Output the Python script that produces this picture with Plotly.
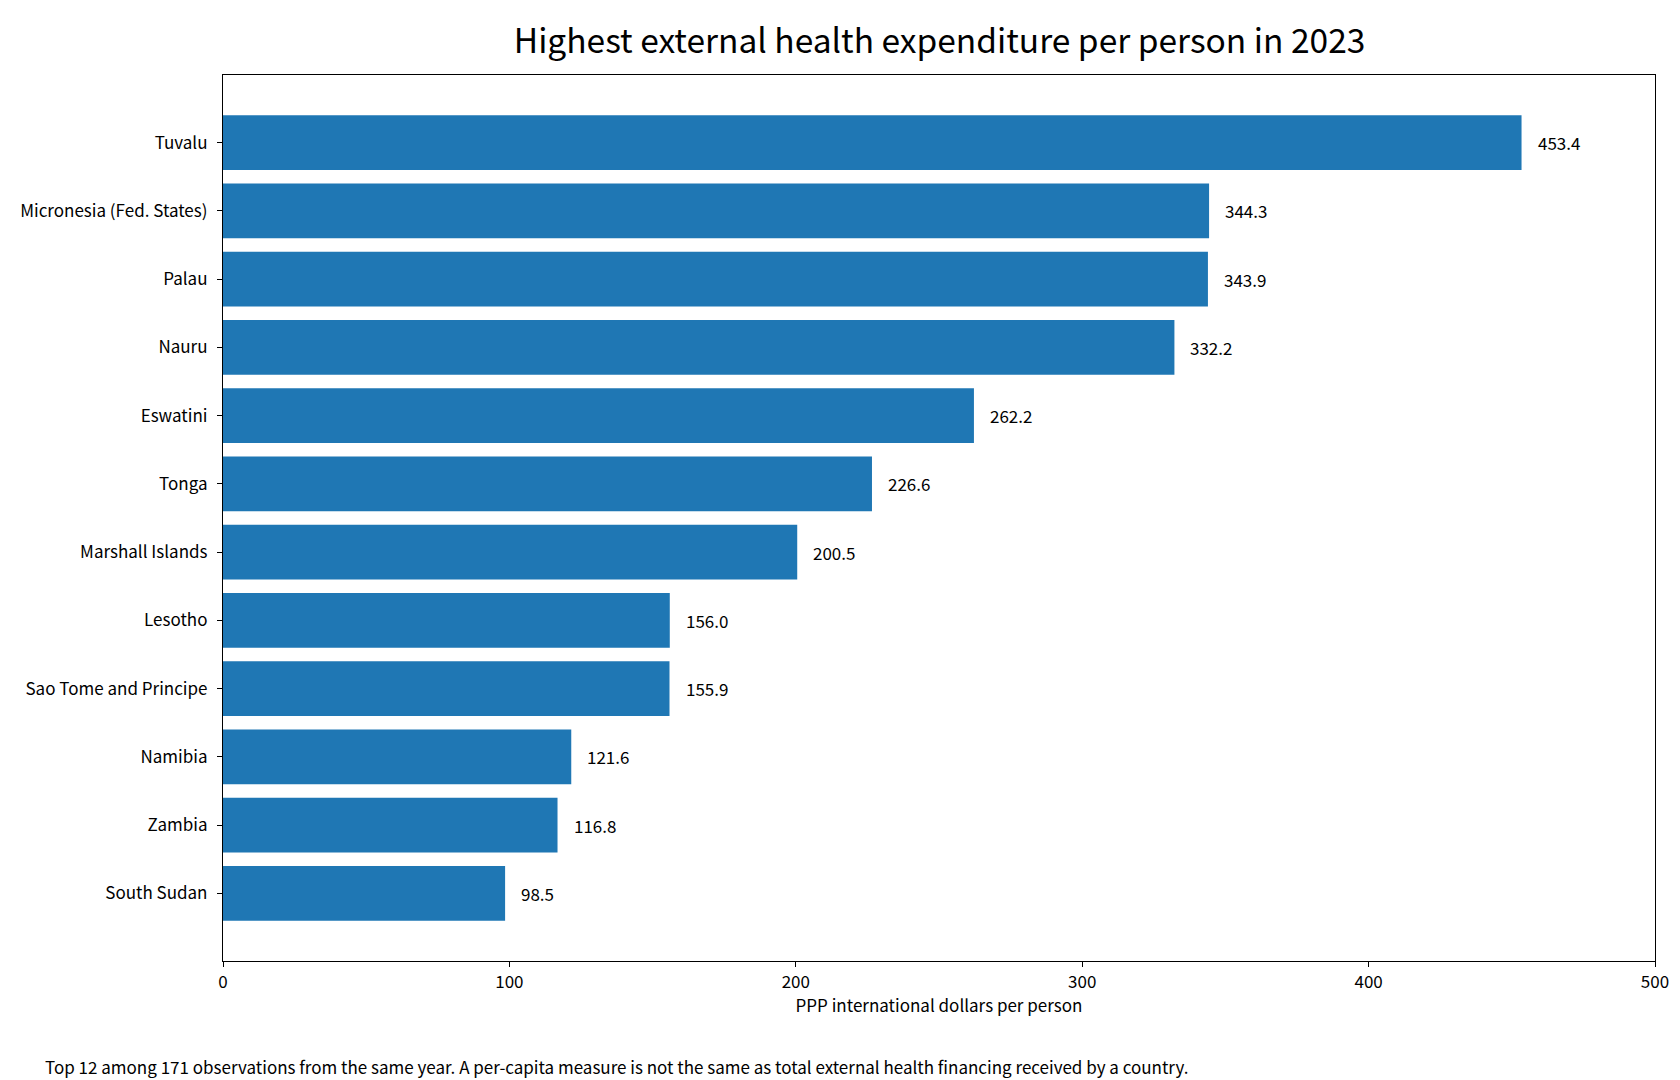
import plotly.graph_objects as go

countries = ["Tuvalu", "Micronesia (Fed. States)", "Palau", "Nauru", "Eswatini", "Tonga",
             "Marshall Islands", "Lesotho", "Sao Tome and Principe", "Namibia", "Zambia", "South Sudan"]
values = [453.4, 344.3, 343.9, 332.2, 262.2, 226.6, 200.5, 156.0, 155.9, 121.6, 116.8, 98.5]
x_ticks = [0, 100, 200, 300, 400, 500]

FONT = "Noto Sans CJK KR"
BAR = "#1f77b4"

fig = go.Figure()
fig.add_trace(go.Bar(
    x=values, y=countries, orientation="h",
    marker=dict(color=BAR, line=dict(width=0)),
    width=0.8, hoverinfo="x+y",
))

for c, v in zip(countries, values):
    fig.add_annotation(x=v, y=c, text=f"{v:.1f}", showarrow=False,
                       xanchor="left", yanchor="middle", xshift=14,
                       font=dict(family=FONT, size=17, color="#000000"))

fig.add_annotation(
    xref="paper", yref="paper", x=-0.126, y=-0.1196,
    text="Top 12 among 171 observations from the same year. A per-capita measure is not the same as total external health financing received by a country.",
    showarrow=False, xanchor="left", yanchor="middle",
    font=dict(family=FONT, size=17, color="#000000"))

fig.update_layout(
    width=1680, height=1080,
    paper_bgcolor="white", plot_bgcolor="white",
    margin=dict(l=214.5, r=33, t=67, b=127),
    showlegend=False,
    bargap=0.2,
    font=dict(family=FONT, size=17, color="#000000"),
    title=dict(text="Highest external health expenditure per person in 2023",
               x=0.5545, xanchor="center", y=1 - 33 / 1080, yanchor="middle",
               yref="container", xref="container",
               font=dict(family=FONT, size=33.5, color="#000000")),
    xaxis=dict(range=[0, 500], tickvals=x_ticks, ticktext=[str(t) for t in x_ticks],
               showgrid=False, zeroline=False, showline=True, linecolor="black", linewidth=1.2,
               mirror=True, ticks="outside", ticklen=5, tickwidth=1.2, tickcolor="black",
               tickfont=dict(family=FONT, size=17),
               title=dict(text="PPP international dollars per person", standoff=5,
                          font=dict(family=FONT, size=17))),
    yaxis=dict(categoryorder="array", categoryarray=countries,
               range=[11.99, -0.99],
               showgrid=False, zeroline=False, showline=True, linecolor="black", linewidth=1.2,
               mirror=True, ticks="outside", ticklen=5, tickwidth=1.2, tickcolor="black",
               ticklabelstandoff=6,
               tickfont=dict(family=FONT, size=17)),
)

fig.write_html("out.html")
